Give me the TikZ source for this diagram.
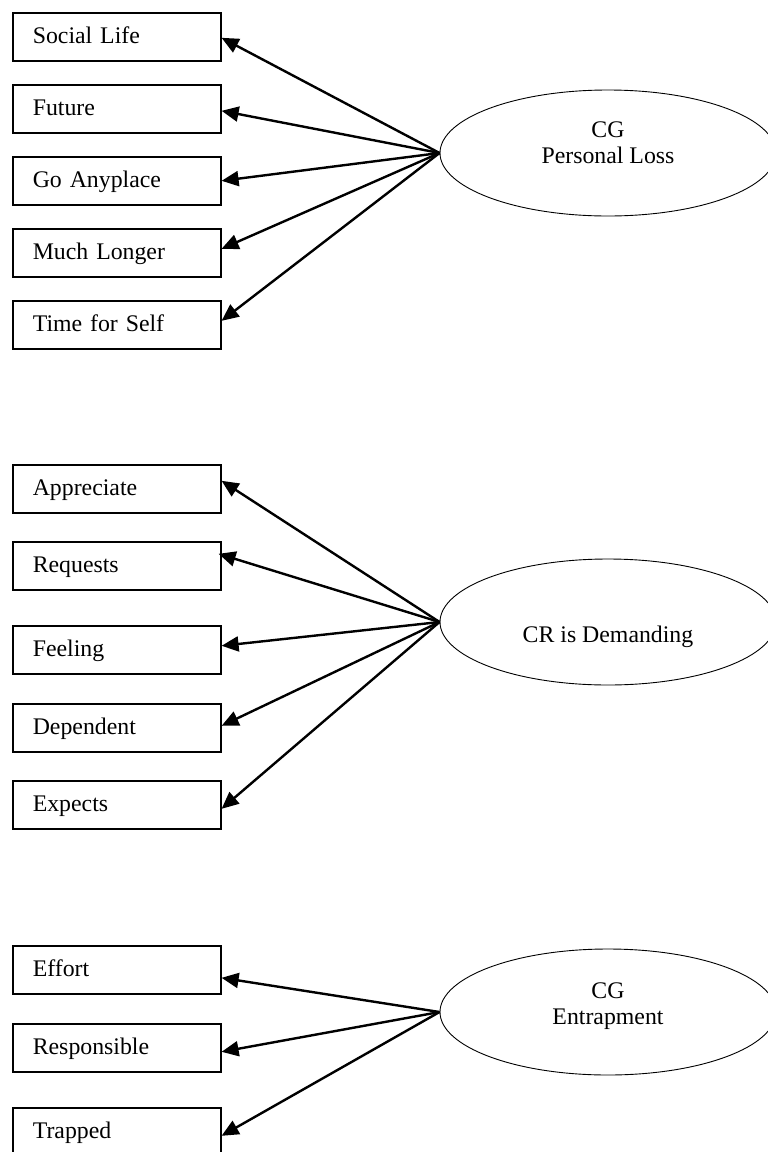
\documentclass[tikz,border=0pt]{standalone}
\usepackage{fontspec}
\setmainfont{Liberation Serif}
\usetikzlibrary{arrows.meta,shapes.geometric}
\begin{document}
\begin{tikzpicture}[x=1pt,y=-1pt,
  item/.style={draw, line width=1.6pt, rectangle, text width=168pt,
    inner xsep=20pt, inner ysep=0pt, minimum height=48pt,
    text height=18pt, text depth=4pt, align=left, anchor=north west,
    font=\fontsize{23.8}{27}\selectfont},
  factor/.style={draw, line width=0.9pt, ellipse, minimum width=336pt,
    minimum height=126pt, inner sep=0pt},
  flabel/.style={align=center, inner sep=0pt,
    font=\fontsize{23.8}{26}\selectfont},
  load/.style={line width=2.4pt, -{Triangle[length=17pt,width=15pt]}}
]
\clip (0,0) rectangle (768,1152);
\fill[white] (0,0) rectangle (768,1152);

% --- CG Personal Loss ---
\node[item] (sl) at (12,12)  {Social Life};
\node[item] (fu) at (12,84)  {Future};
\node[item] (ga) at (12,156) {Go Anyplace};
\node[item] (ml) at (12,228) {Much Longer};
\node[item] (ts) at (12,300) {Time for Self};
\node[factor] (pl) at (608,153) {};
\node[flabel] (pl-text) at (608,143) {CG\\Personal Loss};
\draw[load] (pl.west) -- ([yshift=-1pt]sl.east);
\draw[load] (pl.west) -- ([yshift=-2pt]fu.east);
\draw[load] (pl.west) -- (ga.east);
\draw[load] (pl.west) -- ([yshift=4pt]ml.east);
\draw[load] (pl.west) -- ([yshift=4pt]ts.east);

% --- CR is Demanding ---
\node[item] (ap) at (12,464) {Appreciate};
\node[item] (rq) at (12,541) {Requests};
\node[item] (fe) at (12,625) {Feeling};
\node[item] (de) at (12,703) {Dependent};
\node[item] (ex) at (12,780) {Expects};
\node[factor] (cr) at (608,622) {};
\node[flabel] (cr-text) at (608,637) {CR is Demanding};
\draw[load] (cr.west) -- ([yshift=8pt]ap.east);
\draw[load] (cr.west) -- ([xshift=-3pt,yshift=12pt]rq.east);
\draw[load] (cr.west) -- ([yshift=4pt]fe.east);
\draw[load] (cr.west) -- ([yshift=2pt]de.east);
\draw[load] (cr.west) -- ([yshift=-4pt]ex.east);

% --- CG Entrapment ---
\node[item] (ef) at (12,945)  {Effort};
\node[item] (re) at (12,1023) {Responsible};
\node[item] (tr) at (12,1107) {Trapped};
\node[factor] (en) at (608,1012) {};
\node[flabel] (en-text) at (608,1006) {CG\\Entrapment};
\draw[load] (en.west) -- ([yshift=-8pt]ef.east);
\draw[load] (en.west) -- ([yshift=-4pt]re.east);
\draw[load] (en.west) -- ([yshift=-4pt]tr.east);
\end{tikzpicture}
\end{document}
